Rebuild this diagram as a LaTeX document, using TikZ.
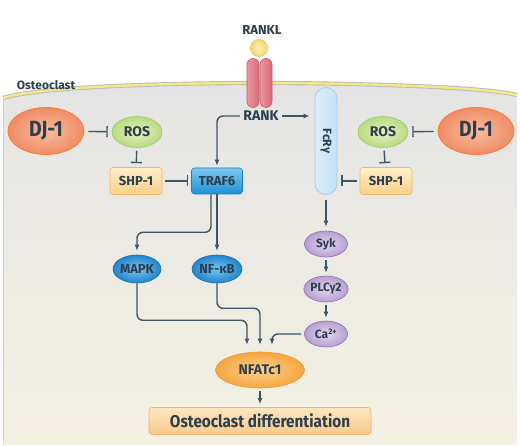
\documentclass[tikz,border=0pt]{standalone}
\usepackage{fontspec}
\setmainfont{Fira Sans}
\usetikzlibrary{arrows.meta,shapes.geometric,positioning}

\definecolor{ink}{HTML}{2B3F4E}
\definecolor{wire}{HTML}{3E5566}
\definecolor{membrane}{HTML}{F3E98A}
\definecolor{cellgrey}{HTML}{E4E4E4}
\definecolor{cellcream}{HTML}{F4F1E3}

\begin{document}
\begin{tikzpicture}[
        x=1pt, y=-1pt,
        every node/.style={text=ink, font=\bfseries},
        dj/.style={ellipse, draw=orange!70!red!80, inner color={rgb,255:red,250;green,188;blue,158},
                   outer color={rgb,255:red,239;green,140;blue,102}, line width=0.8pt,
                   minimum width=76pt, minimum height=47pt,
                   font=\fontsize{22}{22}\bfseries\addfontfeature{FakeStretch=0.88}},
        ros/.style={ellipse, draw={rgb,255:red,160;green,203;blue,104}, inner color={rgb,255:red,228;green,242;blue,198},
                    outer color={rgb,255:red,184;green,219;blue,128}, line width=0.6pt,
                    minimum width=50pt, minimum height=31pt, font=\fontsize{14}{14}\bfseries},
        shp/.style={rectangle, rounded corners=3pt, draw={rgb,255:red,240;green,184;blue,104},
                    top color={rgb,255:red,255;green,240;blue,200}, bottom color={rgb,255:red,251;green,207;blue,136},
                    line width=0.6pt, minimum width=52pt, minimum height=27pt, font=\fontsize{13}{13}\bfseries},
        traf/.style={rectangle, rounded corners=3pt, draw={rgb,255:red,26;green,127;blue,192},
                     top color={rgb,255:red,124;green,201;blue,242}, bottom color={rgb,255:red,30;green,144;blue,214},
                     line width=0.6pt, minimum width=51pt, minimum height=26pt, font=\fontsize{13}{13}\bfseries},
        kinase/.style={ellipse, draw={rgb,255:red,24;green,112;blue,176}, inner color={rgb,255:red,120;green,196;blue,242},
                       outer color={rgb,255:red,31;green,134;blue,204}, line width=0.6pt,
                       minimum width=46pt, minimum height=28pt, inner sep=0pt, font=\fontsize{13}{13}\bfseries},
        lilac/.style={ellipse, draw={rgb,255:red,143;green,116;blue,173}, inner color={rgb,255:red,226;green,214;blue,238},
                      outer color={rgb,255:red,183;green,159;blue,210}, line width=0.6pt,
                      minimum width=43pt, minimum height=26pt, inner sep=0pt, font=\fontsize{12}{12}\bfseries},
        nfat/.style={ellipse, draw={rgb,255:red,238;green,154;blue,54}, inner color={rgb,255:red,252;green,210;blue,140},
                     outer color={rgb,255:red,245;green,166;blue,64}, line width=0.6pt,
                     minimum width=89pt, minimum height=36pt, font=\fontsize{14}{14}\bfseries},
        outcome/.style={rectangle, rounded corners=3pt, draw={rgb,255:red,241;green,178;blue,106},
                        top color={rgb,255:red,253;green,230;blue,192}, bottom color={rgb,255:red,248;green,201;blue,138},
                        line width=0.6pt, minimum width=222pt, minimum height=27pt,
                        font=\fontsize{17}{17}\bfseries\addfontfeature{FakeStretch=0.9}},
        fcr/.style={rectangle, rounded corners=11pt, draw={rgb,255:red,163;green,205;blue,234},
                    left color={rgb,255:red,218;green,237;blue,250}, right color={rgb,255:red,196;green,226;blue,247},
                    line width=0.8pt, minimum width=107pt, minimum height=22pt, rotate=-90,
                    font=\fontsize{12}{12}\bfseries},
        rankbar/.style={rectangle, rounded corners=6pt, draw={rgb,255:red,200;green,91;blue,106},
                        left color={rgb,255:red,236;green,150;blue,160}, right color={rgb,255:red,214;green,106;blue,120},
                        line width=0.6pt, minimum width=12pt, minimum height=49pt},
        ligand/.style={circle, draw={rgb,255:red,232;green,192;blue,80}, inner color={rgb,255:red,255;green,242;blue,190},
                       outer color={rgb,255:red,248;green,212;blue,112}, line width=0.6pt, minimum size=17pt, inner sep=0pt},
        arrow/.style={draw=wire, line width=1.4pt, -{Latex[length=6pt,width=5pt]}},
        inhibit/.style={draw=wire, line width=1.4pt, -{Bar[width=11pt,line width=1.4pt]}}
    ]
    \useasboundingbox (0,0) rectangle (520,446);

    % the cell and its membrane
    \shade[top color=cellgrey, bottom color=cellcream]
        (3,445) -- (3,98) .. controls (40,86) and (180,83) .. (260,83)
        .. controls (340,83) and (480,86) .. (517,95) -- (517,445) -- cycle;
    \draw[gray!35, line width=0.6pt] (3,445) -- (3,98);
    \draw[gray!55, line width=4.2pt] (3,98) .. controls (40,86) and (180,83) .. (260,83)
        .. controls (340,83) and (480,86) .. (517,95);
    \draw[membrane, line width=2.4pt] (3,98) .. controls (40,86) and (180,83) .. (260,83)
        .. controls (340,83) and (480,86) .. (517,95);
    \node[font=\fontsize{12}{12}\bfseries] (cell) at (46,85) {Osteoclast};

    % receptors
    \node[font=\fontsize{13}{13}\bfseries] (rankl) at (262,30) {RANKL};
    \node[ligand] (ball) at (259,48) {};
    \node[rankbar] (rankA) at (253,83) {};
    \node[rankbar] (rankB) at (266,83) {};
    \node[font=\fontsize{14}{14}\bfseries] (rank) at (261,116) {RANK};
    \node[fcr] (fcr) at (326,141) {FcRγ};

    % left branch
    \node[dj] (djL) at (46,131) {DJ-1};
    \node[ros] (rosL) at (137,132) {ROS};
    \node[shp] (shpL) at (136,181) {SHP-1};
    \node[traf] (traf) at (217,181) {TRAF6};
    \node[kinase] (mapk) at (137,269) {MAPK};
    \node[kinase] (nfkb) at (217,269) {NF-κB};

    % right branch
    \node[dj] (djR) at (476,131) {DJ-1};
    \node[ros] (rosR) at (383,132) {ROS};
    \node[shp] (shpR) at (386,181) {SHP-1};
    \node[lilac] (syk) at (326,244) {Syk};
    \node[lilac] (plc) at (326,289) {PLCγ2};
    \node[lilac] (ca) at (326,334) {Ca\textsuperscript{2+}};

    % output
    \node[nfat] (nfat) at (260,370) {NFATc1};
    \node[outcome] (diff) at (260,421) {Osteoclast differentiation};

    % inhibitions
    \draw[inhibit, shorten <=4pt, shorten >=4pt] (djL) -- (rosL);
    \draw[inhibit, shorten <=4pt, shorten >=4pt] (djR) -- (rosR);
    \draw[inhibit, shorten <=3pt, shorten >=4pt] (rosL) -- (shpL);
    \draw[inhibit, shorten <=3pt, shorten >=4pt] (rosR) -- (shpR);
    \draw[inhibit, shorten <=3pt, shorten >=3pt] (shpL) -- (traf);
    \draw[inhibit, shorten <=3pt, shorten >=4pt] (shpR) -- (shpR -| fcr.north);

    % activations
    \draw[arrow, rounded corners=6pt, shorten >=2pt] (rank.west) -| (traf.north);
    \draw[arrow, shorten >=5pt] (rank.east) -- (rank.east -| fcr.south);
    \draw[arrow, rounded corners=6pt, shorten >=4pt] ([xshift=-6pt]traf.south) -- ++(0,38) -| (mapk.north);
    \draw[arrow, shorten >=4pt] (traf.south) -- (nfkb.north);
    \draw[arrow, shorten <=5pt, shorten >=4pt] (fcr.east) -- (syk.north);
    \draw[arrow, shorten <=3pt, shorten >=3pt] (syk) -- (plc);
    \draw[arrow, shorten <=3pt, shorten >=3pt] (plc) -- (ca);
    \draw[arrow, rounded corners=6pt, shorten >=7pt] (mapk.south) -- ++(0,37) -| ([xshift=-13pt]nfat.north);
    \draw[arrow, rounded corners=6pt, shorten >=7pt] (nfkb.south) -- ++(0,25) -| (nfat.north);
    \draw[arrow, rounded corners=6pt, shorten <=3pt, shorten >=7pt] (ca.west) -| ([xshift=12pt]nfat.north);
    \draw[arrow, shorten <=3pt, shorten >=3pt] (nfat) -- (diff);
\end{tikzpicture}
\end{document}
